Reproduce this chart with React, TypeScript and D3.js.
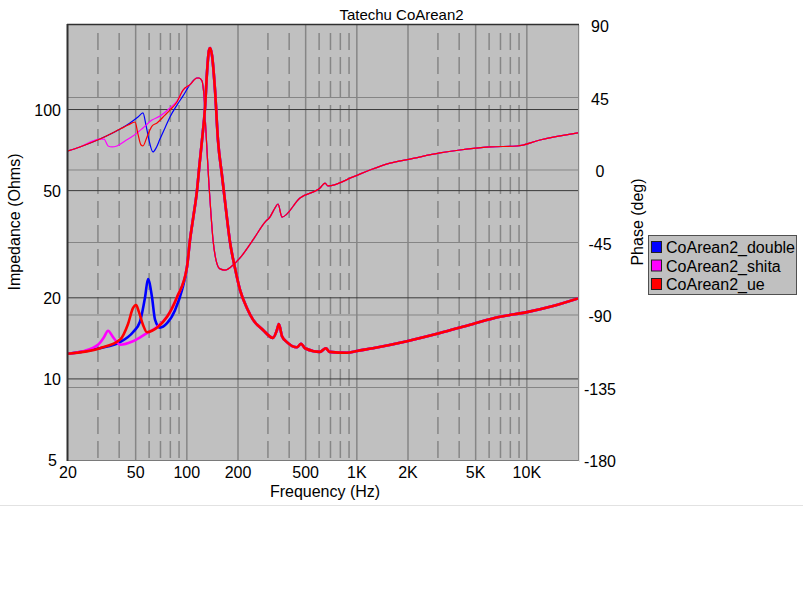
import { useEffect, useRef } from "react";
import * as d3 from "d3";

// axis ticks
const freqTicks = [20, 50, 100, 200, 500, 1000, 2000, 5000, 10000];
const freqTickLabels = ["20", "50", "100", "200", "500", "1K", "2K", "5K", "10K"];
const freqMinor = [30, 40, 60, 70, 80, 90, 300, 400, 600, 700, 800, 900, 3000, 4000, 6000, 7000, 8000, 9000];
const impTicks = [5, 10, 20, 50, 100];
const impGrid = [10, 20, 50, 100];
const phaseTicks = [-180, -135, -90, -45, 0, 45, 90];
const phaseGrid = [-135, -90, -45, 0, 45];

const seriesNames = ["CoArean2_double", "CoArean2_shita", "CoArean2_ue"];
const seriesColors = ["#0000ff", "#ff00ff", "#ff0000"];

// impedance below 100 Hz differs per series
const doubleImpFreq = [20, 30.8, 40.5, 48.2, 53, 56.8, 59.1, 62.4, 65, 69.5, 76.5, 85.2, 93.7, 100.2];
const doubleImp = [12.4, 13.0, 13.7, 14.9, 16.3, 20.1, 23.5, 20.1, 16.6, 15.5, 16.1, 18.0, 21.4, 26.0];
const shitaImpFreq = [20, 25.9, 30.8, 32.6, 34.4, 36.8, 40.5, 48.2, 58.3, 66.8, 76.5, 87.5, 100.2];
const shitaImp = [12.4, 12.8, 13.6, 14.3, 15.1, 14.3, 13.4, 13.8, 14.8, 15.6, 17.0, 20.1, 26.0];
const ueImpFreq = [20, 30.8, 40.5, 45.1, 48.2, 50.3, 52.3, 55.2, 58.3, 62.4, 67.6, 76.5, 87.5, 100.2];
const ueImp = [12.4, 13.0, 14.0, 16.0, 18.3, 18.8, 17.7, 15.9, 14.9, 15.1, 15.6, 17.0, 20.1, 26.0];

// impedance above 100 Hz (all three overlap)
const impFreq = [104.4, 109, 114.8, 118.5, 122.9, 128, 131.4, 135, 137, 140.6, 146.5, 152.5, 161, 170, 179.5, 192, 205.5, 226, 245, 280.6, 321, 339, 348, 363, 388, 444.6, 470, 495.6, 607, 658, 690, 875, 1002, 1244, 1972, 3083, 4822, 6952, 10020, 14250, 20000];
const impShared = [32.8, 39.6, 50.1, 61.7, 77.1, 102, 137, 166, 169, 159, 118, 77, 57, 42.4, 32.2, 25.8, 21.4, 18.3, 16.6, 15.2, 14.2, 15.2, 16.0, 14.4, 13.7, 13.1, 13.5, 13.0, 12.6, 13.0, 12.6, 12.5, 12.7, 13.0, 13.8, 14.8, 16.0, 17.0, 17.7, 18.65, 19.9];

// phase below 100 Hz
const doublePhaseFreq = [20, 23.5, 30.8, 40.5, 46.3, 51.6, 55.2, 57.5, 59.9, 63.2, 65.9, 69.5, 74.4, 79.6, 87.5, 95.0];
const doublePhase = [11.8, 14.3, 19.2, 25.4, 29.2, 32.9, 35.4, 27.9, 18.6, 11.2, 13.6, 19.2, 26.1, 32.9, 40.3, 46.0];
const shitaPhaseFreq = [20, 23.5, 30.8, 32.6, 34.4, 36.3, 38.8, 43.3, 48.2, 55.2, 62.4, 69.5, 79.6, 87.5, 95.0];
const shitaPhase = [11.8, 14.3, 19.2, 19.2, 14.9, 14.3, 14.9, 18.0, 21.1, 26.1, 31.0, 33.5, 38.5, 42.8, 49.6];
const uePhaseFreq = [20, 23.5, 30.8, 40.5, 45.1, 49.6, 51.6, 53.8, 55.2, 58.3, 62.4, 66.8, 74.4, 79.6, 87.5, 95.0];
const uePhase = [11.8, 14.3, 19.2, 25.4, 27.9, 29.8, 22.3, 15.5, 14.9, 20.5, 27.3, 29.2, 34.1, 37.2, 42.2, 49.6];

// phase above 100 Hz
const phaseFreq = [104.4, 114.8, 117.9, 122.9, 124.5, 126.2, 128, 131.4, 135, 138.8, 142.6, 148.5, 156.7, 167.7, 184.3, 205.5, 245, 288.4, 308, 330, 344, 363, 463, 607, 650, 676, 950, 1195, 1568, 2056, 3083, 4046, 6072, 8752, 11950, 20000];
const phaseShared = [53.0, 57.1, 57.1, 55.2, 52.1, 45.9, 34.1, 12.4, -9.3, -27.9, -43.4, -55.9, -61.4, -62.1, -59.6, -54.6, -43.4, -32.3, -29.2, -23.6, -21.1, -29.2, -17.4, -11.2, -8.1, -9.9, -4.3, 0, 4.3, 6.8, 10.6, 12.4, 14.3, 14.9, 18.6, 23.0];

const lowImp = [
  [doubleImpFreq, doubleImp],
  [shitaImpFreq, shitaImp],
  [ueImpFreq, ueImp],
];
const lowPhase = [
  [doublePhaseFreq, doublePhase],
  [shitaPhaseFreq, shitaPhase],
  [uePhaseFreq, uePhase],
];

const FONT = "'Liberation Sans', Arial, sans-serif";

export default function App() {
  const svgRef = useRef<SVGSVGElement>(null);

  useEffect(() => {
    if (!svgRef.current) return;
    const svg = d3.select(svgRef.current);
    svg.selectAll("*").remove();

    const left = 68, right = 578, top = 25, bottom = 460;

    const x = d3.scaleLog().domain([20, 20000]).range([left, right]);
    const yImp = d3.scaleLog().domain([5, 206]).range([bottom, top]);
    const yPh = d3.scaleLinear().domain([-180, 90]).range([bottom, top]);

    svg.append("rect").attr("width", 803).attr("height", 600).attr("fill", "#fff");

    // title
    svg.append("text")
      .attr("x", 401.5).attr("y", 20)
      .attr("text-anchor", "middle")
      .attr("font-size", "15px")
      .text("Tatechu CoArean2");

    // plot background
    svg.append("rect")
      .attr("x", left).attr("y", top)
      .attr("width", right - left).attr("height", bottom - top)
      .attr("fill", "#c0c0c0");

    const grid = svg.append("g");

    // vertical grid
    grid.selectAll("line.major")
      .data(freqTicks.slice(1))
      .enter().append("line")
      .attr("x1", (d) => x(d)).attr("x2", (d) => x(d))
      .attr("y1", top).attr("y2", bottom)
      .attr("stroke", "#868686").attr("stroke-width", 1.5);

    grid.selectAll("line.minor")
      .data(freqMinor)
      .enter().append("line")
      .attr("x1", (d) => x(d)).attr("x2", (d) => x(d))
      .attr("y1", top + 8).attr("y2", bottom)
      .attr("stroke", "#868686").attr("stroke-width", 1.5)
      .attr("stroke-dasharray", "17,7");

    // horizontal grid
    grid.selectAll("line.ph")
      .data(phaseGrid)
      .enter().append("line")
      .attr("x1", left).attr("x2", right)
      .attr("y1", (d) => yPh(d)).attr("y2", (d) => yPh(d))
      .attr("stroke", "#858585").attr("stroke-width", 1);

    grid.selectAll("line.imp")
      .data(impGrid)
      .enter().append("line")
      .attr("x1", left).attr("x2", right)
      .attr("y1", (d) => yImp(d)).attr("y2", (d) => yImp(d))
      .attr("stroke", "#3a3a3a").attr("stroke-width", 1);

    // clip
    svg.append("defs").append("clipPath").attr("id", "plotClip")
      .append("rect")
      .attr("x", left).attr("y", top)
      .attr("width", right - left).attr("height", bottom - top);

    const plot = svg.append("g").attr("clip-path", "url(#plotClip)");

    const impLine = d3.line<[number, number]>()
      .x((d) => x(d[0]))
      .y((d) => yImp(d[1]))
      .curve(d3.curveMonotoneX);

    const phLine = d3.line<[number, number]>()
      .x((d) => x(d[0]))
      .y((d) => yPh(d[1]))
      .curve(d3.curveMonotoneX);

    seriesNames.forEach((_, i) => {
      const [pf, pv] = lowPhase[i];
      const phPts: [number, number][] = pf.map((f, j) => [f, pv[j]] as [number, number])
        .concat(phaseFreq.map((f, j) => [f, phaseShared[j]] as [number, number]));
      plot.append("path")
        .datum(phPts)
        .attr("fill", "none")
        .attr("stroke", seriesColors[i])
        .attr("stroke-width", 1.2)
        .attr("d", phLine);
    });

    seriesNames.forEach((_, i) => {
      const [zf, zv] = lowImp[i];
      const zPts: [number, number][] = zf.map((f, j) => [f, zv[j]] as [number, number])
        .concat(impFreq.map((f, j) => [f, impShared[j]] as [number, number]));
      plot.append("path")
        .datum(zPts)
        .attr("fill", "none")
        .attr("stroke", seriesColors[i])
        .attr("stroke-width", 2.6)
        .attr("stroke-linejoin", "round")
        .attr("d", impLine);
    });

    // frame
    svg.append("line").attr("x1", left).attr("x2", right + 1).attr("y1", bottom + 0.5).attr("y2", bottom + 0.5)
      .attr("stroke", "#7a7a7a").attr("stroke-width", 1);
    svg.append("line").attr("x1", right + 0.5).attr("x2", right + 0.5).attr("y1", top).attr("y2", bottom + 1)
      .attr("stroke", "#8a8a8a").attr("stroke-width", 1);
    svg.append("line").attr("x1", right + 1.5).attr("x2", right + 1.5).attr("y1", top).attr("y2", bottom + 2)
      .attr("stroke", "#e8e8e8").attr("stroke-width", 1);
    svg.append("line").attr("x1", left - 1).attr("x2", right + 1).attr("y1", top - 0.5).attr("y2", top - 0.5)
      .attr("stroke", "#303030").attr("stroke-width", 1.5);
    svg.append("line").attr("x1", left - 0.5).attr("x2", left - 0.5).attr("y1", top - 1).attr("y2", bottom + 1)
      .attr("stroke", "#303030").attr("stroke-width", 2);

    const labels = svg.append("g").attr("font-size", "16px").attr("fill", "#000");

    // left ticks
    labels.selectAll("text.imp")
      .data(impTicks)
      .enter().append("text")
      .attr("x", (d) => (d === 5 ? 57 : 61))
      .attr("y", (d) => yImp(d) + 6)
      .attr("text-anchor", "end")
      .text((d) => String(d));

    // right ticks
    labels.selectAll("text.ph")
      .data(phaseTicks)
      .enter().append("text")
      .attr("x", 600)
      .attr("y", (d) => yPh(d) + 7)
      .attr("text-anchor", "middle")
      .text((d) => String(d));

    // bottom ticks
    labels.selectAll("text.freq")
      .data(freqTicks)
      .enter().append("text")
      .attr("x", (d) => x(d))
      .attr("y", 478)
      .attr("text-anchor", "middle")
      .text((_, i) => freqTickLabels[i]);

    labels.append("text")
      .attr("x", 325).attr("y", 497)
      .attr("text-anchor", "middle")
      .text("Frequency (Hz)");

    labels.append("text")
      .attr("transform", "translate(20,222) rotate(-90)")
      .attr("text-anchor", "middle")
      .text("Impedance (Ohms)");

    labels.append("text")
      .attr("transform", "translate(643,222) rotate(-90)")
      .attr("text-anchor", "middle")
      .text("Phase (deg)");

    // legend
    const lg = svg.append("g");
    lg.append("rect")
      .attr("x", 648.5).attr("y", 235.5)
      .attr("width", 148).attr("height", 59)
      .attr("fill", "#c0c0c0")
      .attr("stroke", "#505050");
    seriesNames.forEach((name, i) => {
      const cy = 247 + i * 18.5;
      lg.append("rect")
        .attr("x", 651.5).attr("y", cy - 5.5)
        .attr("width", 10).attr("height", 11)
        .attr("fill", seriesColors[i])
        .attr("stroke", "#202020");
      lg.append("text")
        .attr("x", 666).attr("y", cy + 6)
        .attr("font-size", "16px")
        .text(name);
    });

    // separator below chart
    svg.append("line")
      .attr("x1", 0).attr("x2", 803)
      .attr("y1", 505.5).attr("y2", 505.5)
      .attr("stroke", "#e2e2e2");
  }, []);

  return (
    <div style={{ position: "absolute", left: 0, top: 0 }}>
      <svg
        ref={svgRef}
        width={803}
        height={600}
        style={{ display: "block", fontFamily: FONT }}
      />
    </div>
  );
}
